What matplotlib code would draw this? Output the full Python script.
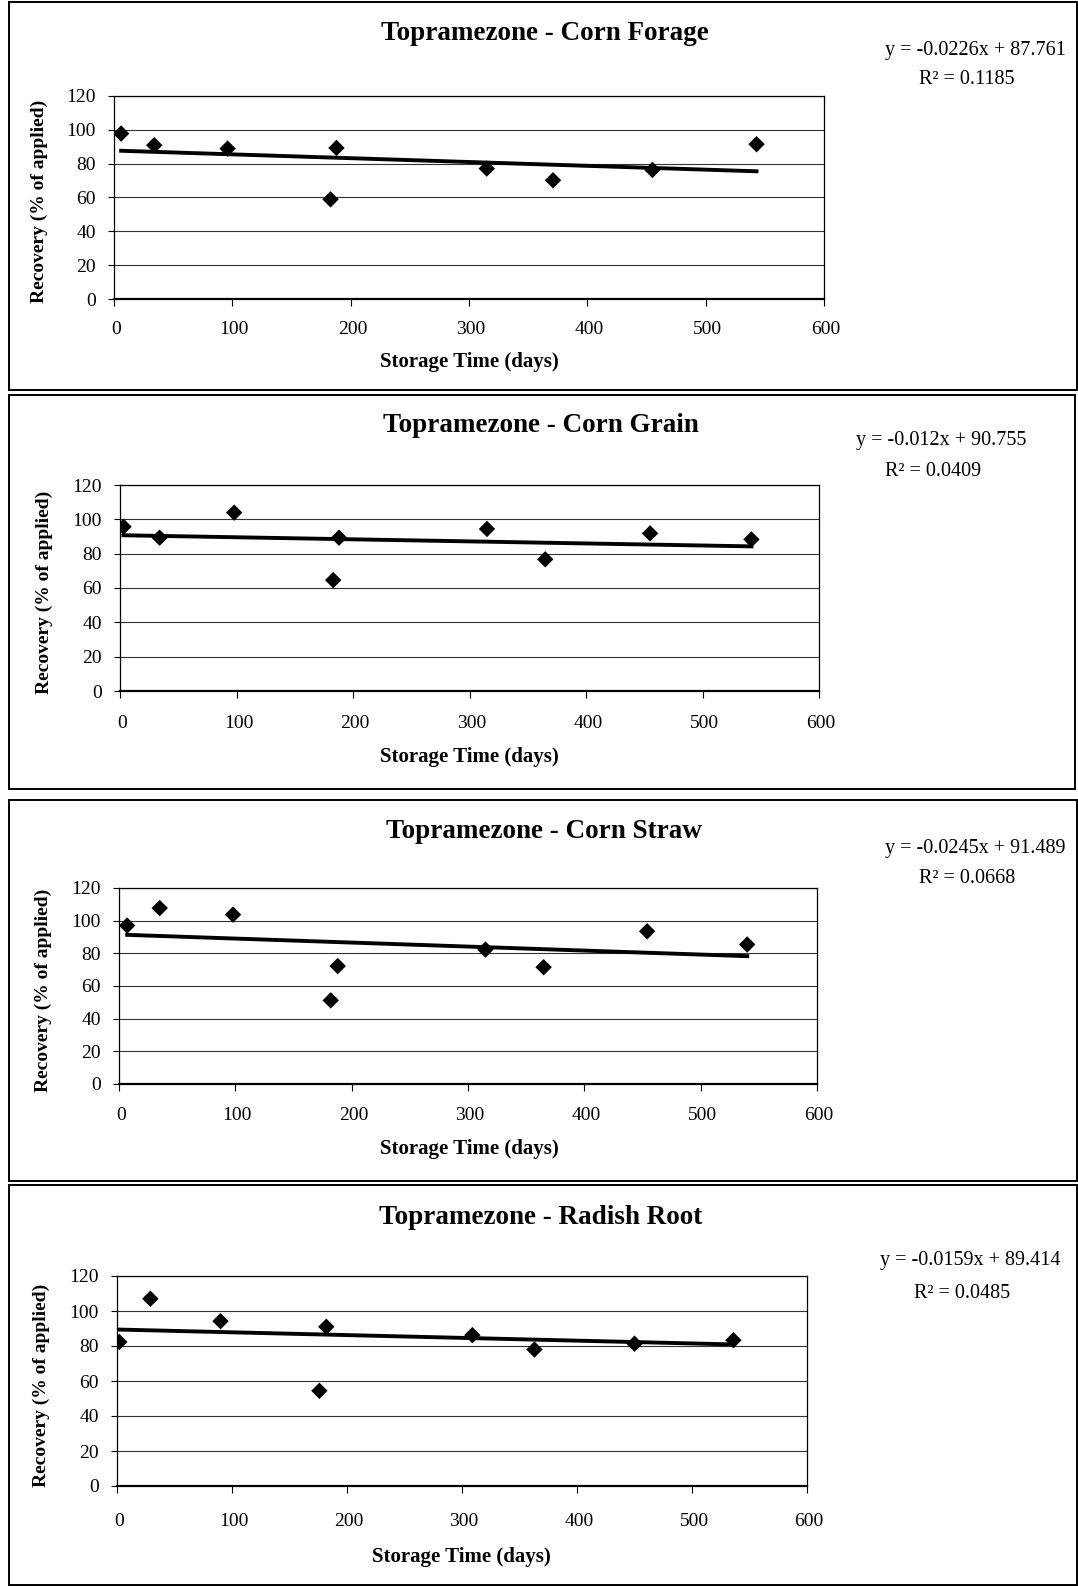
import numpy as np
import matplotlib
matplotlib.use("Agg")
import matplotlib.pyplot as plt
from matplotlib.patches import Rectangle

plt.rcParams['font.family'] = ['Liberation Serif', 'DejaVu Serif']

W, H = 1078, 1587

# data (days, % recovery)
titles = ["Topramezone - Corn Forage", "Topramezone - Corn Grain",
          "Topramezone - Corn Straw", "Topramezone - Radish Root"]

forage_days = [6, 34, 96, 183, 188, 315, 371, 455, 543]
forage_rec = [97.8, 90.9, 88.9, 58.9, 89.3, 77.1, 70.2, 76.3, 91.5]

grain_days = [3, 34, 98, 183, 188, 315, 365, 455, 542]
grain_rec = [95.7, 89.3, 103.9, 64.6, 89.3, 94.4, 76.7, 91.8, 88.3]

straw_days = [7, 35, 98, 182, 188, 315, 365, 454, 540]
straw_rec = [97.0, 107.7, 103.7, 51.2, 72.2, 82.3, 71.5, 93.5, 85.4]

radish_days = [2, 29, 90, 176, 182, 309, 363, 450, 536]
radish_rec = [82.3, 107.0, 94.2, 54.4, 91.0, 86.2, 78.0, 81.3, 83.3]

slopes = [-0.0226, -0.012, -0.0245, -0.0159]
intercepts = [87.761, 90.755, 91.489, 89.414]
eq_labels = ["y = -0.0226x + 87.761", "y = -0.012x + 90.755",
             "y = -0.0245x + 91.489", "y = -0.0159x + 89.414"]
r2_labels = ["R² = 0.1185", "R² = 0.0409", "R² = 0.0668", "R² = 0.0485"]

x_ticks = [0, 100, 200, 300, 400, 500, 600]
y_ticks = [0, 20, 40, 60, 80, 100, 120]

days = [forage_days, grain_days, straw_days, radish_days]
recs = [forage_rec, grain_rec, straw_rec, radish_rec]

# layout in pixels: panel box (x0, y0, x1, y1), axes (left, top, right, bottom)
boxes = [(9, 2, 1077, 390), (9, 395, 1075, 789), (9, 800, 1077, 1181), (9, 1185, 1077, 1585)]
axes_px = [(114, 96, 824, 299), (120, 485, 819, 691), (119, 888, 817, 1084), (117, 1276, 807, 1486)]
title_y = [34, 425, 832, 1217]
title_x = [545, 541, 544, 541]
tick_y = [329, 724, 1116, 1521]
xlabel_x = [469, 469, 469, 461]
xlabel_y = [362, 757, 1149, 1557]
ylabel_x = [39, 44, 43, 41]
eq_x = [975, 941, 975, 970]
eq_y = [50, 441, 849, 1261]
r2_y = [79, 471, 879, 1293]

fig = plt.figure(figsize=(W / 100, H / 100), dpi=100)


def fx(p):
    return p / W


def fy(p):
    return 1 - p / H


for i in range(4):
    b = boxes[i]
    fig.patches.append(Rectangle((fx(b[0]), fy(b[3])), fx(b[2] - b[0]), (b[3] - b[1]) / H,
                                 transform=fig.transFigure, fill=False, lw=1.4,
                                 edgecolor="black"))
    l, t, r, bt = axes_px[i]
    ax = fig.add_axes([fx(l), fy(bt), fx(r - l), (bt - t) / H])
    ax.set_xlim(0, 600)
    ax.set_ylim(0, 120)
    ax.set_xticks(x_ticks)
    ax.set_yticks(y_ticks)
    ax.set_xticklabels([])
    ax.set_yticklabels([str(v) for v in y_ticks], fontsize=14)
    ax.tick_params(axis='x', direction='out', length=5, width=0.8)
    ax.tick_params(axis='y', direction='out', length=4, width=0.8, pad=9)
    ax.grid(axis='y', color='#333333', lw=0.8)
    ax.set_axisbelow(True)
    for s in ax.spines.values():
        s.set_linewidth(0.9)
    ax.spines['bottom'].set_linewidth(1.6)

    # trend line from the fitted equation
    xs = np.array([min(days[i]), max(days[i])])
    ax.plot(xs, slopes[i] * xs + intercepts[i], color='black', lw=2.8, zorder=3)
    ax.scatter(days[i], recs[i], marker='D', s=70, color='black', zorder=4,
               edgecolors='none')

    # x tick labels sit well below the axis in the scan
    for v in x_ticks:
        xp = l + (r - l) * v / 600
        fig.text(fx(xp + 2), fy(tick_y[i]), str(v), ha='center', va='center', fontsize=14)

    fig.text(fx(xlabel_x[i]), fy(xlabel_y[i]), "Storage Time (days)", ha='center',
             va='center', fontsize=15, fontweight='bold')
    fig.text(fx(ylabel_x[i]), fy((t + bt) / 2 + 4), "Recovery (% of applied)", ha='center',
             va='center', rotation=90, fontsize=14, fontweight='bold')
    fig.text(fx(title_x[i]), fy(title_y[i]), titles[i], ha='center', va='center',
             fontsize=19.5, fontweight='bold')
    fig.text(fx(eq_x[i]), fy(eq_y[i]), eq_labels[i], ha='center', va='center', fontsize=14.5)
    fig.text(fx(eq_x[i] - 8), fy(r2_y[i]), r2_labels[i], ha='center', va='center', fontsize=14.5)

fig.savefig("out.png", dpi=100, facecolor='white')
